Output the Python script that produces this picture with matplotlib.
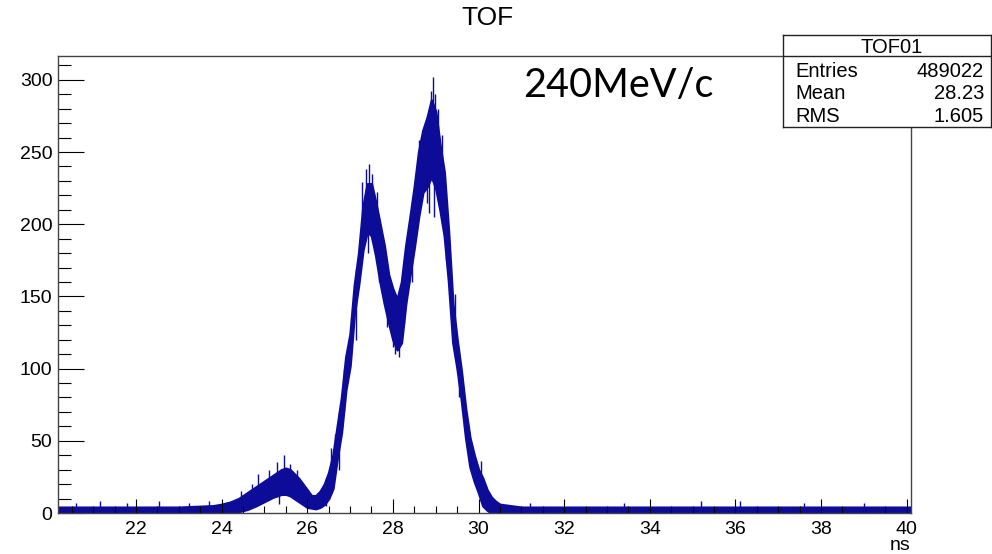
import numpy as np
import matplotlib.pyplot as plt
from matplotlib.ticker import MultipleLocator

# ===== datos (envolvente del histograma TOF01) =====
t_ns = [20.2, 21.0, 22.0, 23.0, 23.8, 24.0, 24.2, 24.4, 24.6, 24.8,
        25.0, 25.2, 25.4, 25.5, 25.6, 25.8, 26.0, 26.1, 26.2, 26.3,
        26.4, 26.5, 26.6, 26.7, 26.8, 26.9, 27.0, 27.1, 27.2, 27.3,
        27.4, 27.5, 27.6, 27.7, 27.8, 27.9, 28.0, 28.1, 28.2, 28.3,
        28.4, 28.5, 28.6, 28.7, 28.8, 28.9, 29.0, 29.1, 29.2, 29.3,
        29.4, 29.5, 29.6, 29.7, 29.8, 29.9, 30.0, 30.1, 30.2, 30.3,
        30.4, 30.5, 31.0, 33.0, 35.0, 37.0, 39.0, 40.1]
cuentas_min = [0, 0, 0, 0, 0, 0, 0.5, 1, 2.5, 5,
               8, 11, 13, 13, 12, 8, 4, 3.5, 3, 4,
               6, 10, 17, 38, 56, 85, 102, 138, 158, 182,
               195, 192, 178, 160, 145, 132, 120, 113, 118, 145,
               165, 184, 205, 222, 226, 233, 225, 210, 192, 160,
               118, 100, 78, 52, 32, 22, 14, 5, 2, 0,
               0, 0, 0, 0, 0, 0, 0, 0]
cuentas_max = [4, 4, 4, 4, 5, 6, 7.5, 10, 14, 18,
               22, 26, 30, 31, 30, 24, 16, 12, 12, 15,
               20, 28, 40, 60, 80, 108, 124, 158, 180, 212,
               228, 228, 215, 200, 185, 165, 155, 148, 160, 185,
               205, 226, 250, 265, 274, 286, 278, 255, 236, 195,
               145, 120, 98, 72, 52, 40, 30, 24, 16, 11,
               8, 6, 4, 4, 4, 4, 4, 4]

# picos sueltos (hacia arriba) y caidas (hacia abajo)
picos_x = [20.6, 21.15, 21.8, 22.55, 23.25, 23.7, 24.45, 24.7, 24.85, 25.1,
           25.3, 25.45, 25.6, 25.75, 26.55, 26.65, 26.85, 27.05, 27.28, 27.38,
           27.45, 27.52, 27.62, 28.25, 28.37, 28.5, 28.62, 28.88, 28.93, 28.98,
           29.05, 29.15, 29.45, 30.05, 31.2, 33.4, 35.2, 36.1, 37.6, 39.0]
picos_y = [7, 8, 7, 8, 7, 8, 15, 20, 27, 30,
           35, 40, 34, 30, 45, 55, 100, 135, 229, 238,
           242, 235, 222, 175, 196, 215, 258, 292, 302, 290,
           280, 262, 152, 36, 7, 7, 8, 8, 7, 7]
caidas_x = [25.35, 26.45, 26.75, 27.15, 27.42, 27.67, 27.87, 28.0, 28.05, 28.15,
            28.45, 28.8, 28.85, 28.95, 29.25, 29.55]
caidas_y = [6, 5, 30, 120, 180, 160, 129, 115, 110, 108,
            160, 215, 208, 205, 175, 80]

xticks = [22, 24, 26, 28, 30, 32, 34, 36, 38, 40]
yticks = [0, 50, 100, 150, 200, 250, 300]

azul = "#0c0c98"
fuente = "Liberation Sans"

fig = plt.figure(figsize=(9.92, 5.54), dpi=100)
ax = fig.add_axes([58 / 992, 41 / 554, 853 / 992, 457 / 554])

ax.fill_between(t_ns, cuentas_min, cuentas_max, color=azul, lw=1.8, edgecolor=azul)
ax.vlines(picos_x, np.interp(picos_x, t_ns, cuentas_min), picos_y, color=azul, lw=1.0)
ax.vlines(caidas_x, caidas_y, np.interp(caidas_x, t_ns, cuentas_max), color=azul, lw=1.0)

ax.set_xlim(20.18, 40.1)
ax.set_ylim(0, 316.5)
ax.set_xticks(xticks)
ax.set_yticks(yticks)
ax.xaxis.set_minor_locator(MultipleLocator(0.5))
ax.yaxis.set_minor_locator(MultipleLocator(10))
ax.tick_params(axis="x", which="major", direction="in", length=10, width=0.8,
               pad=6, labelsize=14, top=False)
ax.tick_params(axis="x", which="minor", direction="in", length=5, width=0.8, top=False)
ax.tick_params(axis="y", which="major", direction="in", length=18.5, width=0.8,
               pad=4, labelsize=14, right=False)
ax.tick_params(axis="y", which="minor", direction="in", length=9.3, width=0.8, right=False)
for lab in ax.get_xticklabels() + ax.get_yticklabels():
    lab.set_fontfamily(fuente)
for s in ax.spines.values():
    s.set_color("#444444")
    s.set_linewidth(1.0)

fig.text(910 / 992, 1 - 546 / 554, "ns", ha="right", va="center",
         fontsize=14, family=fuente)
fig.text(487 / 992, 1 - 18 / 554, "TOF", ha="center", va="center",
         fontsize=19, family=fuente)
fig.text(523 / 992, 1 - 97 / 554, "240MeV/c", ha="left", va="baseline",
         fontsize=28.5, family="Lato")

# caja de estadisticas
caja = fig.add_axes([783 / 992, (554 - 127) / 554, 208 / 992, 92 / 554])
caja.set_xticks([])
caja.set_yticks([])
caja.set_xlim(0, 1)
caja.set_ylim(0, 1)
for s in caja.spines.values():
    s.set_color("#222222")
    s.set_linewidth(1.0)
caja.axhline(71 / 92, color="#222222", lw=1.0)
caja.text(0.52, 0.859, "TOF01", ha="center", va="center", fontsize=14.5, family=fuente)
filas = [("Entries", "489022", 0.598), ("Mean", "28.23", 0.359), ("RMS", "1.605", 0.109)]
for nombre, valor, yy in filas:
    caja.text(0.058, yy, nombre, ha="left", va="center", fontsize=14.5, family=fuente)
    caja.text(0.966, yy, valor, ha="right", va="center", fontsize=14.5, family=fuente)

fig.savefig("out.png", dpi=100)
